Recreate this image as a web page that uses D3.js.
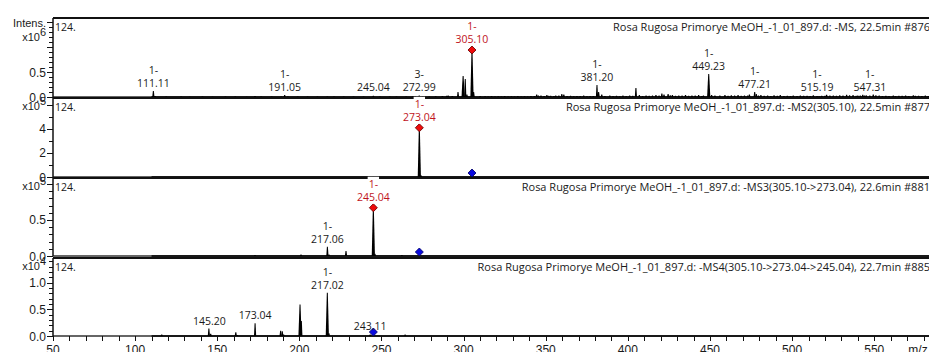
<!DOCTYPE html>
<html>
<head>
<meta charset="utf-8">
<title>Rosa Rugosa MSn spectra</title>
<script src="https://d3js.org/d3.v7.min.js"></script>
<style>
  body { margin: 0; background: white; }
  svg { display: block; background: white; }
  text { font-family: "Liberation Sans", Arial, sans-serif; fill: #1a1a1a; }
  .ann, .ref { font-family: "Open Sans", sans-serif; font-size: 10.5px; }
  .scan { font-family: "Open Sans", sans-serif; font-size: 11px; }
  .ann.prec { fill: #c0141c; }
  .tick-label { font-size: 12px; }
  .exp { font-size: 11px; }
</style>
</head>
<body>
<svg></svg>
<script>
// ---- data (intensities in units of the panel's exponent) ----
var scanTitles = [
  "Rosa Rugosa Primorye MeOH_-1_01_897.d: -MS, 22.5min #876",
  "Rosa Rugosa Primorye MeOH_-1_01_897.d: -MS2(305.10), 22.5min #877",
  "Rosa Rugosa Primorye MeOH_-1_01_897.d: -MS3(305.10->273.04), 22.6min #881",
  "Rosa Rugosa Primorye MeOH_-1_01_897.d: -MS4(305.10->273.04->245.04), 22.7min #885"
];

var ms1Mz = [110.5, 111.11, 112.1, 118.9, 128.0, 133.2, 141.0, 147.1, 155.0, 161.0, 167.9, 173.0, 176.7, 183.1, 188.9,
  191.05, 193.0, 199.0, 205.0, 211.0, 217.0, 221.1, 227.0, 233.0, 239.1, 245.04, 249.0, 255.0, 259.1, 265.0, 269.1,
  270.5, 272.99, 275.0, 279.1, 283.0, 287.1, 289.7, 290.6, 293.1, 296.6, 299.7, 301.0, 302.0, 305.10, 306.1, 310.0,
  313.1, 317.0, 321.1, 325.0, 329.1, 333.0, 337.1, 341.0, 344.5, 347.1, 350.7, 353.0, 356.1, 359.8, 361.0, 365.1,
  369.0, 373.1, 377.0, 381.20, 382.2, 384.1, 389.0, 393.1, 397.0, 401.1, 404.9, 407.0, 411.1, 415.0, 417.1, 420.7,
  422.0, 424.5, 427.1, 431.0, 435.1, 439.0, 443.1, 446.0, 449.23, 451.0, 456.0, 459.1, 463.0, 467.1, 471.0, 474.0,
  477.21, 478.2, 481.0, 485.1, 489.0, 492.8, 497.1, 500.7, 505.0, 509.1, 512.9, 515.19, 518.0, 521.0, 525.1, 529.0,
  533.2, 537.1, 540.0, 543.0, 545.1, 547.31, 549.4, 553.0, 557.1, 561.6, 565.0, 569.1, 573.8, 577.0, 581.1, 585.0];
var ms1Int = [0.01, 0.12, 0.02, 0.008, 0.012, 0.006, 0.008, 0.006, 0.01, 0.008, 0.007, 0.02, 0.012, 0.008, 0.01,
  0.04, 0.01, 0.008, 0.01, 0.008, 0.012, 0.008, 0.01, 0.008, 0.01, 0.025, 0.01, 0.012, 0.01, 0.012, 0.01,
  0.02, 0.03, 0.015, 0.012, 0.015, 0.02, 0.025, 0.03, 0.02, 0.1, 0.42, 0.36, 0.05, 0.94, 0.1, 0.02,
  0.015, 0.02, 0.015, 0.02, 0.015, 0.02, 0.015, 0.02, 0.05, 0.03, 0.04, 0.025, 0.03, 0.06, 0.05, 0.025,
  0.02, 0.03, 0.02, 0.24, 0.1, 0.05, 0.03, 0.025, 0.03, 0.03, 0.18, 0.04, 0.03, 0.03, 0.04, 0.07,
  0.05, 0.06, 0.04, 0.03, 0.04, 0.03, 0.04, 0.03, 0.46, 0.04, 0.03, 0.04, 0.035, 0.04, 0.03, 0.05,
  0.1, 0.06, 0.04, 0.03, 0.035, 0.04, 0.025, 0.03, 0.03, 0.025, 0.035, 0.02, 0.025, 0.045, 0.03, 0.035,
  0.045, 0.04, 0.03, 0.045, 0.035, 0.03, 0.05, 0.03, 0.025, 0.03, 0.025, 0.03, 0.035, 0.025, 0.03, 0.025];
// low-level chemical noise between the main MS1 peaks
var ms1NoiseMz = [315.0, 319.1, 323.0, 327.1, 331.0, 335.1, 339.0, 343.1, 345.5, 349.0, 351.8, 355.0, 358.0, 363.0,
  367.0, 371.0, 375.1, 379.0, 386.0, 391.0, 395.1, 399.0, 403.0, 409.0, 413.0, 419.0, 425.8, 429.0, 433.0, 437.0,
  441.0, 445.0, 453.0, 461.0, 465.0, 469.0, 473.0, 479.5, 483.0, 487.0, 491.0, 495.0, 499.0, 503.0, 507.0, 511.0,
  516.5, 520.0, 523.0, 527.0, 531.0, 535.0, 539.0, 541.5, 544.0, 551.0, 555.0, 559.0, 563.0, 567.0, 571.0, 575.0,
  579.0, 583.0];
var ms1NoiseInt = [0.01, 0.012, 0.01, 0.012, 0.01, 0.012, 0.01, 0.02, 0.03, 0.02, 0.025, 0.02, 0.03, 0.02,
  0.015, 0.02, 0.015, 0.02, 0.02, 0.02, 0.015, 0.02, 0.025, 0.02, 0.025, 0.03, 0.035, 0.025, 0.03, 0.025,
  0.03, 0.02, 0.03, 0.025, 0.03, 0.025, 0.03, 0.03, 0.025, 0.02, 0.025, 0.02, 0.02, 0.02, 0.025, 0.02,
  0.015, 0.025, 0.03, 0.025, 0.03, 0.035, 0.025, 0.03, 0.03, 0.035, 0.02, 0.02, 0.02, 0.025, 0.02, 0.025,
  0.02, 0.02];
var ms1LabelMz = [111.11, 191.05, 245.04, 272.99, 305.10, 381.20, 449.23, 477.21, 515.19, 547.31];
var ms1LabelCharge = ["1-", "1-", "", "3-", "1-", "1-", "1-", "1-", "1-", "1-"];

var ms2Mz = [245.0, 273.04, 274.0];
var ms2Int = [0.03, 4.1, 0.15];
var ms2LabelMz = [273.04];
var ms2LabelCharge = ["1-"];

var ms3Mz = [173.0, 201.0, 217.06, 218.0, 228.4, 245.04, 246.0, 262.4];
var ms3Int = [0.015, 0.02, 0.13, 0.02, 0.07, 0.67, 0.03, 0.015];
var ms3LabelMz = [217.06, 245.04];
var ms3LabelCharge = ["1-", "1-"];

var ms4Mz = [116.2, 144.9, 146.0, 161.3, 162.2, 173.04, 188.6, 189.6, 190.4, 200.4, 201.2, 217.02, 218.0, 243.11, 264.4];
var ms4Int = [0.03, 0.14, 0.04, 0.07, 0.02, 0.24, 0.1, 0.09, 0.03, 0.59, 0.28, 0.81, 0.05, 0.03, 0.03];
var ms4LabelMz = [145.20, 173.04, 217.02, 243.11];
var ms4LabelCharge = ["", "", "1-", ""];

var ms1Ticks = [0.0, 0.5];
var ms2Ticks = [0, 2, 4];
var ms3Ticks = [0.0, 0.5];
var ms4Ticks = [0.0, 0.5, 1.0];
var mzTicks = [50, 100, 150, 200, 250, 300, 350, 400, 450, 500, 550];

// ---- layout ----
var svgWidth = 929, svgHeight = 352,
    plotLeft = 53, plotRight = 935,
    scanStart = 110;

var svg = d3.select("svg").attr("width", svgWidth).attr("height", svgHeight);
var x = d3.scaleLinear().domain([50, 587]).range([plotLeft, plotRight]);

var panels = [
  {top: 18, base: 97, yMax: 1.58, minor: 0.1, major: 0.5, exp: 6, fmt: ".1f",
   mz: ms1Mz.concat(ms1NoiseMz), ints: ms1Int.concat(ms1NoiseInt), ticks: ms1Ticks,
   labelMz: ms1LabelMz, charge: ms1LabelCharge, prec: 305.10, parent: null},
  {top: 98, base: 177, yMax: 6.58, minor: 1, major: 2, exp: 5, fmt: "d",
   mz: ms2Mz, ints: ms2Int, ticks: ms2Ticks, labelMz: ms2LabelMz, charge: ms2LabelCharge, prec: 273.04, parent: 305.10},
  {top: 178, base: 256, yMax: 1.083, minor: 0.1, major: 0.5, exp: 5, fmt: ".1f",
   mz: ms3Mz, ints: ms3Int, ticks: ms3Ticks, labelMz: ms3LabelMz, charge: ms3LabelCharge, prec: 245.04, parent: 273.04},
  {top: 258, base: 336, yMax: 1.46, minor: 0.1, major: 0.5, exp: 4, fmt: ".1f",
   mz: ms4Mz, ints: ms4Int, ticks: ms4Ticks, labelMz: ms4LabelMz, charge: ms4LabelCharge, prec: null, parent: 245.04}
];

var diamond = d3.symbol().type(d3.symbolSquare).size(32);

panels.forEach(function(p, i) {
  var y = d3.scaleLinear().domain([0, p.yMax]).range([p.base, p.top]);
  var g = svg.append("g").attr("class", "panel");

  // frame: top border, bottom axis line
  g.append("line").attr("x1", plotLeft).attr("x2", plotRight)
    .attr("y1", p.top).attr("y2", p.top).attr("stroke", "#111").attr("stroke-width", 2);
  g.append("line").attr("x1", plotLeft).attr("x2", plotRight)
    .attr("y1", p.base).attr("y2", p.base).attr("stroke", "#666").attr("stroke-width", 2);
  g.append("line").attr("x1", x(scanStart)).attr("x2", plotRight)
    .attr("y1", p.base).attr("y2", p.base).attr("stroke", "#000").attr("stroke-width", 1.6);

  // y axis
  g.append("line").attr("x1", plotLeft).attr("x2", plotLeft)
    .attr("y1", p.top).attr("y2", p.base).attr("stroke", "#111").attr("stroke-width", 1.5);
  var nMinor = Math.floor(p.yMax / p.minor + 1e-6);
  var minorTicks = d3.range(0, nMinor + 1).map(function(k) { return k * p.minor; });
  g.selectAll(".ytick").data(minorTicks).enter().append("line")
    .attr("x1", function(d) { return Math.abs(d / p.major - Math.round(d / p.major)) < 1e-6 ? plotLeft - 6 : plotLeft - 4; })
    .attr("x2", plotLeft)
    .attr("y1", function(d) { return Math.round(y(d)) + 0.5; })
    .attr("y2", function(d) { return Math.round(y(d)) + 0.5; })
    .attr("stroke", "#111").attr("stroke-width", 1);
  g.selectAll(".tick-label").data(p.ticks).enter().append("text")
    .attr("class", "tick-label")
    .attr("x", plotLeft - 7).attr("y", function(d) { return y(d) + 4.5; })
    .attr("text-anchor", "end")
    .text(function(d) { return d3.format(p.fmt)(d); });

  // exponent label
  var expY = i === 0 ? p.top + 23 : p.top + 12;
  if (i === 0) {
    g.append("text").attr("class", "exp").attr("x", plotLeft - 7).attr("y", p.top + 9)
      .attr("text-anchor", "end").text("Intens.");
  }
  var ex = g.append("text").attr("class", "exp").attr("x", plotLeft - 7).attr("y", expY).attr("text-anchor", "end");
  ex.append("tspan").text("x10");
  ex.append("tspan").attr("dy", -5).text(p.exp);

  // texts in the panel
  g.append("text").attr("class", "ref").attr("x", plotLeft + 2).attr("y", p.top + 13).text("124.");
  g.append("text").attr("class", "scan").attr("x", 930).attr("y", p.top + 13)
    .attr("text-anchor", "end").text(scanTitles[i]);

  // peaks
  var peaks = p.mz.map(function(m, k) { return {mz: m, v: p.ints[k]}; });
  g.selectAll(".peak").data(peaks).enter().append("path")
    .attr("class", "peak")
    .attr("fill", "#000")
    .attr("d", function(d) {
      var cx = x(d.mz), yt = y(d.v), w = yt < p.base - 20 ? 1.6 : 1.1;
      return "M" + (cx - w) + "," + p.base + "L" + (cx - 0.5) + "," + yt +
             "L" + (cx + 0.5) + "," + yt + "L" + (cx + w) + "," + p.base + "Z";
    });

  // precursor markers
  if (p.parent !== null) {
    g.append("path").attr("d", diamond)
      .attr("transform", "translate(" + x(p.parent) + "," + (p.base - 4) + ") rotate(45)")
      .attr("fill", "#0a0ae0").attr("stroke", "#00006a").attr("stroke-width", 0.8);
  }
  if (p.prec !== null) {
    var pv = peaks.find(function(d) { return Math.abs(d.mz - p.prec) < 0.01; }).v;
    g.append("path").attr("d", diamond)
      .attr("transform", "translate(" + x(p.prec) + "," + y(pv) + ") rotate(45)")
      .attr("fill", "#ee0b0b").attr("stroke", "#6a0000").attr("stroke-width", 0.8);
  }

  // peak annotations
  p.labelMz.forEach(function(m, k) {
    var pk = peaks.reduce(function(a, b) { return Math.abs(b.mz - m) < Math.abs(a.mz - m) ? b : a; });
    var isPrec = p.prec !== null && Math.abs(m - p.prec) < 0.01;
    var yt = y(pk.v);
    var baseY = isPrec ? yt - 7 : Math.min(yt - 4, p.base - 6);
    var cls = "ann" + (isPrec ? " prec" : "");
    var lines = [];
    if (p.charge[k]) lines.push({t: p.charge[k], y: baseY - 13});
    lines.push({t: d3.format(".2f")(m), y: baseY});
    lines.forEach(function(l) {
      var t = g.append("text").attr("class", cls).attr("x", x(m)).attr("y", l.y)
        .attr("text-anchor", "middle").text(l.t);
      if (isPrec) {
        var bb = t.node().getBBox();
        g.insert("rect", function() { return t.node(); })
          .attr("x", bb.x - 1).attr("y", bb.y).attr("width", bb.width + 2).attr("height", bb.height)
          .attr("fill", "white");
      }
    });
  });
});

// x axis at the bottom panel
var last = panels[panels.length - 1];
var xAxisG = svg.append("g");
xAxisG.selectAll(".xtick").data(d3.range(50, 590, 10)).enter().append("line")
  .attr("x1", function(d) { return Math.round(x(d)) + 0.5; })
  .attr("x2", function(d) { return Math.round(x(d)) + 0.5; })
  .attr("y1", last.base).attr("y2", last.base + 5)
  .attr("stroke", "#111").attr("stroke-width", 1);
xAxisG.selectAll(".xlabel").data(mzTicks).enter().append("text")
  .attr("class", "tick-label")
  .attr("x", function(d) { return x(d); }).attr("y", last.base + 18)
  .attr("text-anchor", "middle")
  .text(function(d) { return d; });
xAxisG.append("text").attr("class", "tick-label")
  .attr("x", 918).attr("y", last.base + 18).attr("text-anchor", "middle").text("m/z");
</script>
</body>
</html>
